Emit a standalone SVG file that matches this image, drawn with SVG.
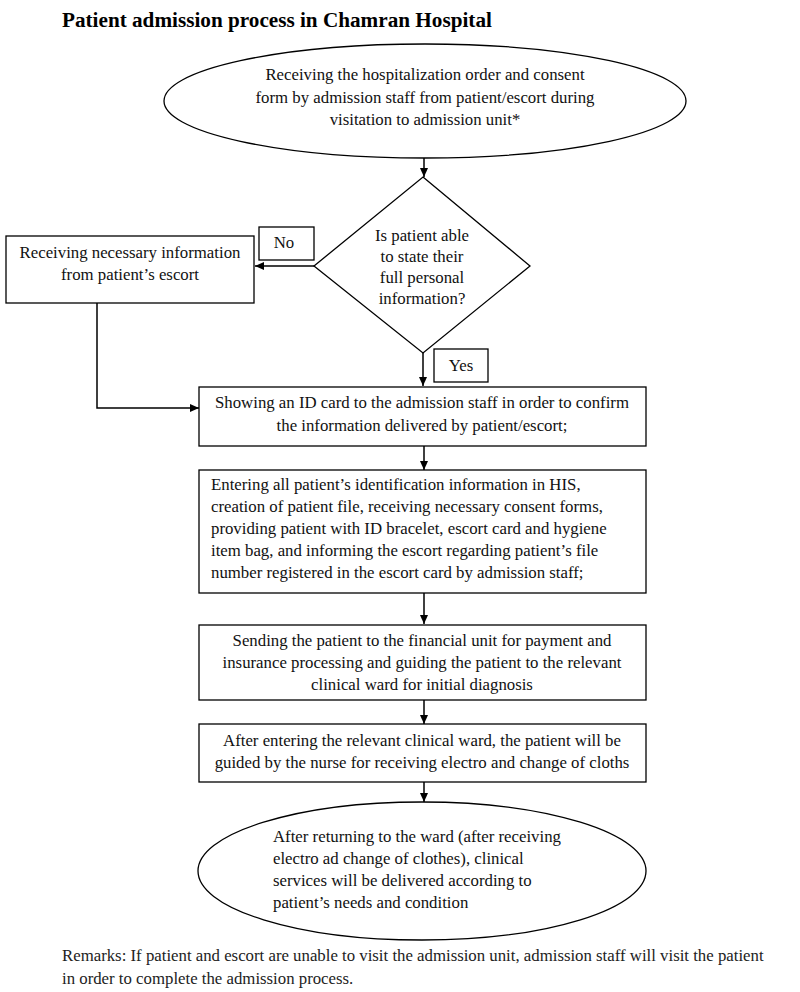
<svg xmlns="http://www.w3.org/2000/svg" width="800" height="992" viewBox="0 0 800 992">
<defs>
<style>
.s{fill:#fff;stroke:#000;stroke-width:1.3}
.t{font-family:"Liberation Serif","Times New Roman",serif;font-size:16.8px;fill:#111}
.c{text-anchor:middle}
.e{fill:none;stroke:#000;stroke-width:1.5}
</style>
<marker id="a" markerWidth="10" markerHeight="10" refX="9" refY="5" orient="auto" markerUnits="userSpaceOnUse">
<path d="M0,1 L9,5 L0,9 Z" fill="#000"/>
</marker>
</defs>
<rect width="800" height="992" fill="#fff"/>
<text x="62" y="27" font-family="Liberation Serif,serif" font-size="21.2" font-weight="bold">Patient admission process in Chamran Hospital</text>

<g id="connectors">
<line class="e" x1="424" y1="158" x2="424" y2="177" marker-end="url(#a)"/>
<line class="e" x1="314" y1="266" x2="255" y2="266" marker-end="url(#a)"/>
<line class="e" x1="423" y1="353" x2="423" y2="386" marker-end="url(#a)"/>
<polyline class="e" points="97,303 97,408 199,408" marker-end="url(#a)"/>
<line class="e" x1="424" y1="446" x2="424" y2="470" marker-end="url(#a)"/>
<line class="e" x1="424" y1="593" x2="424" y2="624" marker-end="url(#a)"/>
<line class="e" x1="424" y1="700" x2="424" y2="724" marker-end="url(#a)"/>
<line class="e" x1="424" y1="782" x2="424" y2="802" marker-end="url(#a)"/>
</g>

<g id="start">
<ellipse class="s" cx="425" cy="101" rx="261" ry="57"/>
<text class="t c" x="425" y="80">Receiving the hospitalization order and consent</text>
<text class="t c" x="425" y="103">form by admission staff from patient/escort during</text>
<text class="t c" x="425" y="125">visitation to admission unit*</text>
</g>

<g id="decision">
<polygon class="s" points="423,177 530,266 423,353 314,266"/>
<text class="t c" x="422" y="241">Is patient able</text>
<text class="t c" x="422" y="262">to state their</text>
<text class="t c" x="422" y="283">full personal</text>
<text class="t c" x="422" y="304">information?</text>
</g>

<g id="no-label">
<rect class="s" x="259" y="227" width="55" height="33"/>
<text class="t c" x="284" y="248">No</text>
</g>

<g id="escort">
<rect class="s" x="6" y="236" width="248" height="67"/>
<text class="t c" x="130" y="258">Receiving necessary information</text>
<text class="t c" x="130" y="280">from patient’s escort</text>
</g>

<g id="yes-label">
<rect class="s" x="434" y="349" width="54" height="33"/>
<text class="t c" x="461" y="371">Yes</text>
</g>

<g id="id-card">
<rect class="s" x="199" y="387" width="447" height="59"/>
<text class="t c" x="422" y="408">Showing an ID card to the admission staff in order to confirm</text>
<text class="t c" x="422" y="431">the information delivered by patient/escort;</text>
</g>

<g id="his">
<rect class="s" x="199" y="470" width="447" height="123"/>
<text class="t" x="211" y="490">Entering all patient’s identification information in HIS,</text>
<text class="t" x="211" y="512">creation of patient file, receiving necessary consent forms,</text>
<text class="t" x="211" y="534">providing patient with ID bracelet, escort card and hygiene</text>
<text class="t" x="211" y="556">item bag, and informing the escort regarding patient’s file</text>
<text class="t" x="211" y="578">number registered in the escort card by admission staff;</text>
</g>

<g id="financial">
<rect class="s" x="199" y="625" width="447" height="75"/>
<text class="t c" x="422" y="646">Sending the patient to the financial unit for payment and</text>
<text class="t c" x="422" y="668">insurance processing and guiding the patient to the relevant</text>
<text class="t c" x="422" y="690">clinical ward for initial diagnosis</text>
</g>

<g id="ward">
<rect class="s" x="199" y="724" width="447" height="58"/>
<text class="t c" x="422" y="746">After entering the relevant clinical ward, the patient will be</text>
<text class="t c" x="422" y="768">guided by the nurse for receiving electro and change of cloths</text>
</g>

<g id="end">
<ellipse class="s" cx="422" cy="871" rx="224" ry="69"/>
<text class="t" x="273" y="842">After returning to the ward (after receiving</text>
<text class="t" x="273" y="864">electro ad change of clothes), clinical</text>
<text class="t" x="273" y="886">services will be delivered according to</text>
<text class="t" x="273" y="908">patient’s needs and condition</text>
</g>

<text class="t" x="62" y="961" style="fill:#222">Remarks: If patient and escort are unable to visit the admission unit, admission staff will visit the patient</text>
<text class="t" x="62" y="984" style="fill:#222">in order to complete the admission process.</text>
</svg>
